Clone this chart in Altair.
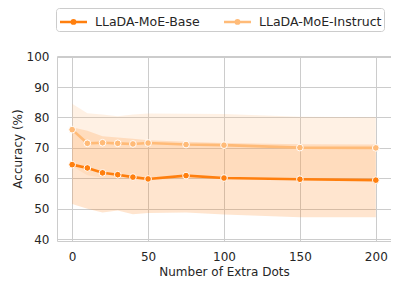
import altair as alt
import pandas as pd

x_vals = [0, 10, 20, 30, 40, 50, 75, 100, 150, 200]
series = ["LLaDA-MoE-Base", "LLaDA-MoE-Instruct"]

base_mean = [64.5, 63.4, 61.8, 61.2, 60.4, 59.8, 60.9, 60.1, 59.7, 59.4]
base_lo = [51.6, 50.0, 48.8, 49.4, 48.2, 48.6, 48.8, 48.1, 47.2, 47.2]
base_hi = [76.8, 75.6, 73.8, 73.4, 73.0, 72.5, 72.0, 71.6, 71.2, 71.1]

inst_mean = [76.0, 71.5, 71.7, 71.5, 71.3, 71.6, 71.1, 70.9, 70.1, 70.0]
inst_lo = [64.0, 61.0, 60.2, 60.0, 59.6, 59.5, 59.8, 59.8, 59.7, 59.7]
inst_hi = [84.5, 81.4, 81.0, 80.4, 81.0, 81.3, 81.2, 81.1, 80.2, 80.1]

y_ticks = [40, 50, 60, 70, 80, 90, 100]
x_ticks = [0, 50, 100, 150, 200]

rows = []
for name, m, lo, hi in [
    (series[0], base_mean, base_lo, base_hi),
    (series[1], inst_mean, inst_lo, inst_hi),
]:
    for i, xv in enumerate(x_vals):
        rows.append({"x": xv, "model": name, "mean": m[i], "lo": lo[i], "hi": hi[i]})
df = pd.DataFrame(rows)

palette = alt.Scale(domain=series, range=["#ff7f0e", "#ffbb78"])

color = alt.Color(
    "model:N",
    scale=palette,
    legend=alt.Legend(
        title=None,
        orient="none",
        legendX=-1,
        legendY=-48,
        direction="horizontal",
        columns=2,
        symbolType="M-1.35,0H1.35M0.17,0A0.17,0.17,0,1,1,-0.17,0A0.17,0.17,0,1,1,0.17,0",
        symbolSize=400,
        symbolStrokeWidth=2.5,
        symbolOpacity=1,
        symbolOffset=4,
        labelFontSize=12.5,
        labelFont="DejaVu Sans",
        labelColor="#262626",
        columnPadding=19,
        labelOffset=10,
        padding=2,
        strokeColor="#cccccc",
        fillColor="white",
        cornerRadius=3,
    ),
)

yscale = alt.Scale(domain=[39.4, 100.2], nice=False, zero=False)
yaxis = alt.Axis(values=y_ticks, title="Accuracy (%)", labelOverlap=False)

xenc = alt.X(
    "x:Q",
    scale=alt.Scale(domain=[-10, 210], nice=False),
    axis=alt.Axis(values=x_ticks, title="Number of Extra Dots"),
)

bands = alt.Chart(df).mark_area(opacity=0.2).encode(
    x=xenc,
    y=alt.Y("lo:Q", scale=yscale, axis=yaxis),
    y2="hi:Q",
    color=color,
)

lines = alt.Chart(df).mark_line(strokeWidth=2.6).encode(
    x=xenc,
    y=alt.Y("mean:Q", scale=yscale, axis=yaxis),
    color=color,
)

points = alt.Chart(df).mark_point(filled=True, size=45, stroke="white", strokeWidth=1, opacity=1).encode(
    x=xenc,
    y=alt.Y("mean:Q", scale=yscale, axis=yaxis),
    fill=alt.Fill("model:N", scale=palette, legend=None),
)

chart = (
    alt.layer(bands, lines, points)
    .properties(
        width=334,
        height=185,
        autosize=alt.AutoSizeParams(type="none"),
        padding={"left": 49, "top": 48, "right": 0, "bottom": 39},
    )
    .configure_view(stroke="#cccccc", strokeWidth=1)
    .configure_axis(
        grid=True,
        gridColor="#cccccc",
        gridWidth=1,
        domain=False,
        ticks=False,
        labelFont="DejaVu Sans",
        titleFont="DejaVu Sans",
        labelFontSize=12,
        titleFontSize=12,
        labelColor="#262626",
        titleColor="#262626",
        titleFontWeight="normal",
    )
    .configure_axisX(labelPadding=10, titlePadding=4)
    .configure_axisY(labelPadding=8, titlePadding=2)
)

chart.save("out.html", embed_options={"renderer": "svg", "actions": False})
